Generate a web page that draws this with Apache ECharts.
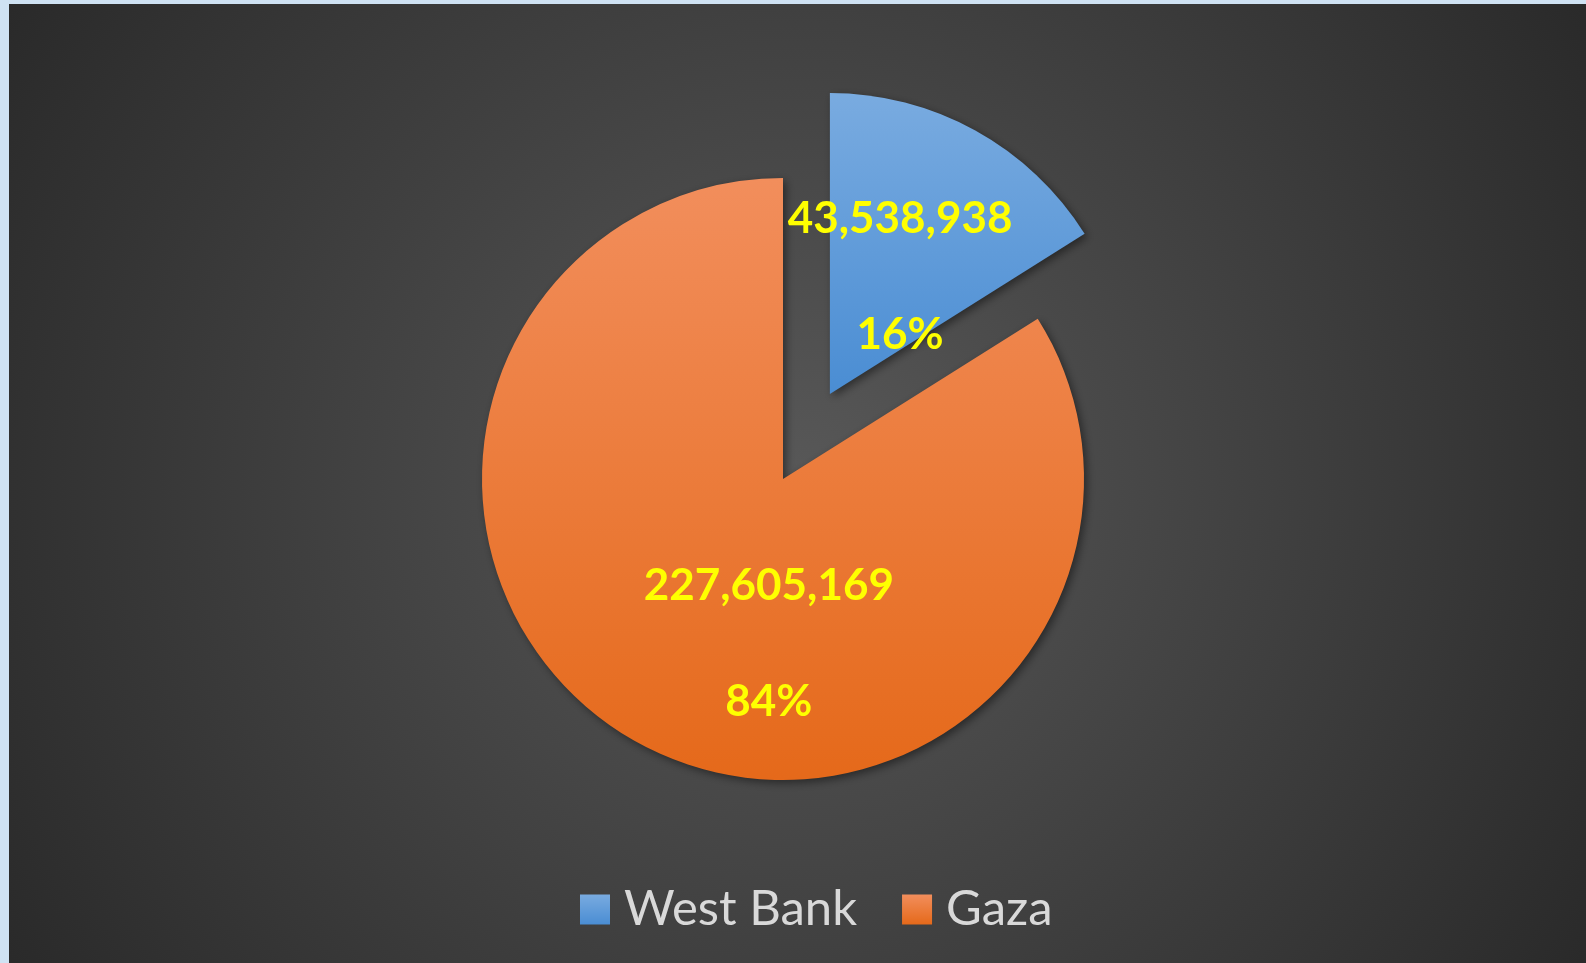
<!DOCTYPE html>
<html>
<head>
<meta charset="utf-8">
<title>West Bank / Gaza</title>
<script src="https://cdn.jsdelivr.net/npm/echarts@6/dist/echarts.min.js"></script>
<style>
  html, body { margin: 0; padding: 0; background: #cfe2f3; }
  #main { position: absolute; left: 9px; top: 4px; width: 1577px; height: 959px; }
</style>
</head>
<body>
<div id="main"></div>
<script>
// data
var regions = ['West Bank', 'Gaza'];
var amounts = [43538938, 227605169];
// label nudges (dx, dy) so they sit where the original put them
var labelShift = [[-4, 17], [60, 30]];

var fills = [
  ['#79abe0', '#4a8dd3'],
  ['#f28e5c', '#e5691a']
];

function grad(c) {
  return new echarts.graphic.LinearGradient(0, 0, 0, 1, [
    { offset: 0, color: c[0] },
    { offset: 1, color: c[1] }
  ]);
}

var pieData = regions.map(function (name, i) {
  return {
    name: name,
    value: amounts[i],
    selected: i === 0,
    itemStyle: { color: grad(fills[i]) }
  };
});

var myChart = echarts.init(document.getElementById('main'));

var option = {
  backgroundColor: new echarts.graphic.RadialGradient(0.5, 0.5, 1.0, [
    { offset: 0, color: '#585858' },
    { offset: 1, color: '#282828' }
  ]),
  animation: false,
  legend: {
    data: regions,
    left: 571,
    top: 881,
    padding: 0,
    itemWidth: 30,
    itemHeight: 30,
    itemGap: 45,
    icon: 'rect',
    textStyle: {
      color: '#d9d9d9',
      fontFamily: 'Lato',
      fontSize: 49,
      padding: [0, 0, 0, 9]
    }
  },
  series: [{
    type: 'pie',
    center: [774, 475],
    radius: 301,
    startAngle: 90,
    clockwise: true,
    selectedMode: 'single',
    selectedOffset: 97,
    percentPrecision: 0,
    avoidLabelOverlap: false,
    itemStyle: {
      shadowBlur: 8,
      shadowColor: 'rgba(0,0,0,0.45)',
      shadowOffsetX: 3,
      shadowOffsetY: 3
    },
    emphasis: { disabled: true },
    label: {
      show: true,
      position: 'inside',
      color: '#ffff00',
      fontFamily: 'Lato',
      fontWeight: 'bold',
      fontSize: 44,
      lineHeight: 58,
      formatter: function (p) {
        return p.value.toLocaleString('en-US') + '\n\n' + p.percent + '%';
      }
    },
    labelLayout: function (p) {
      return { dx: labelShift[p.dataIndex][0], dy: labelShift[p.dataIndex][1] };
    },
    data: pieData
  }]
};

myChart.setOption(option);
</script>
</body>
</html>
